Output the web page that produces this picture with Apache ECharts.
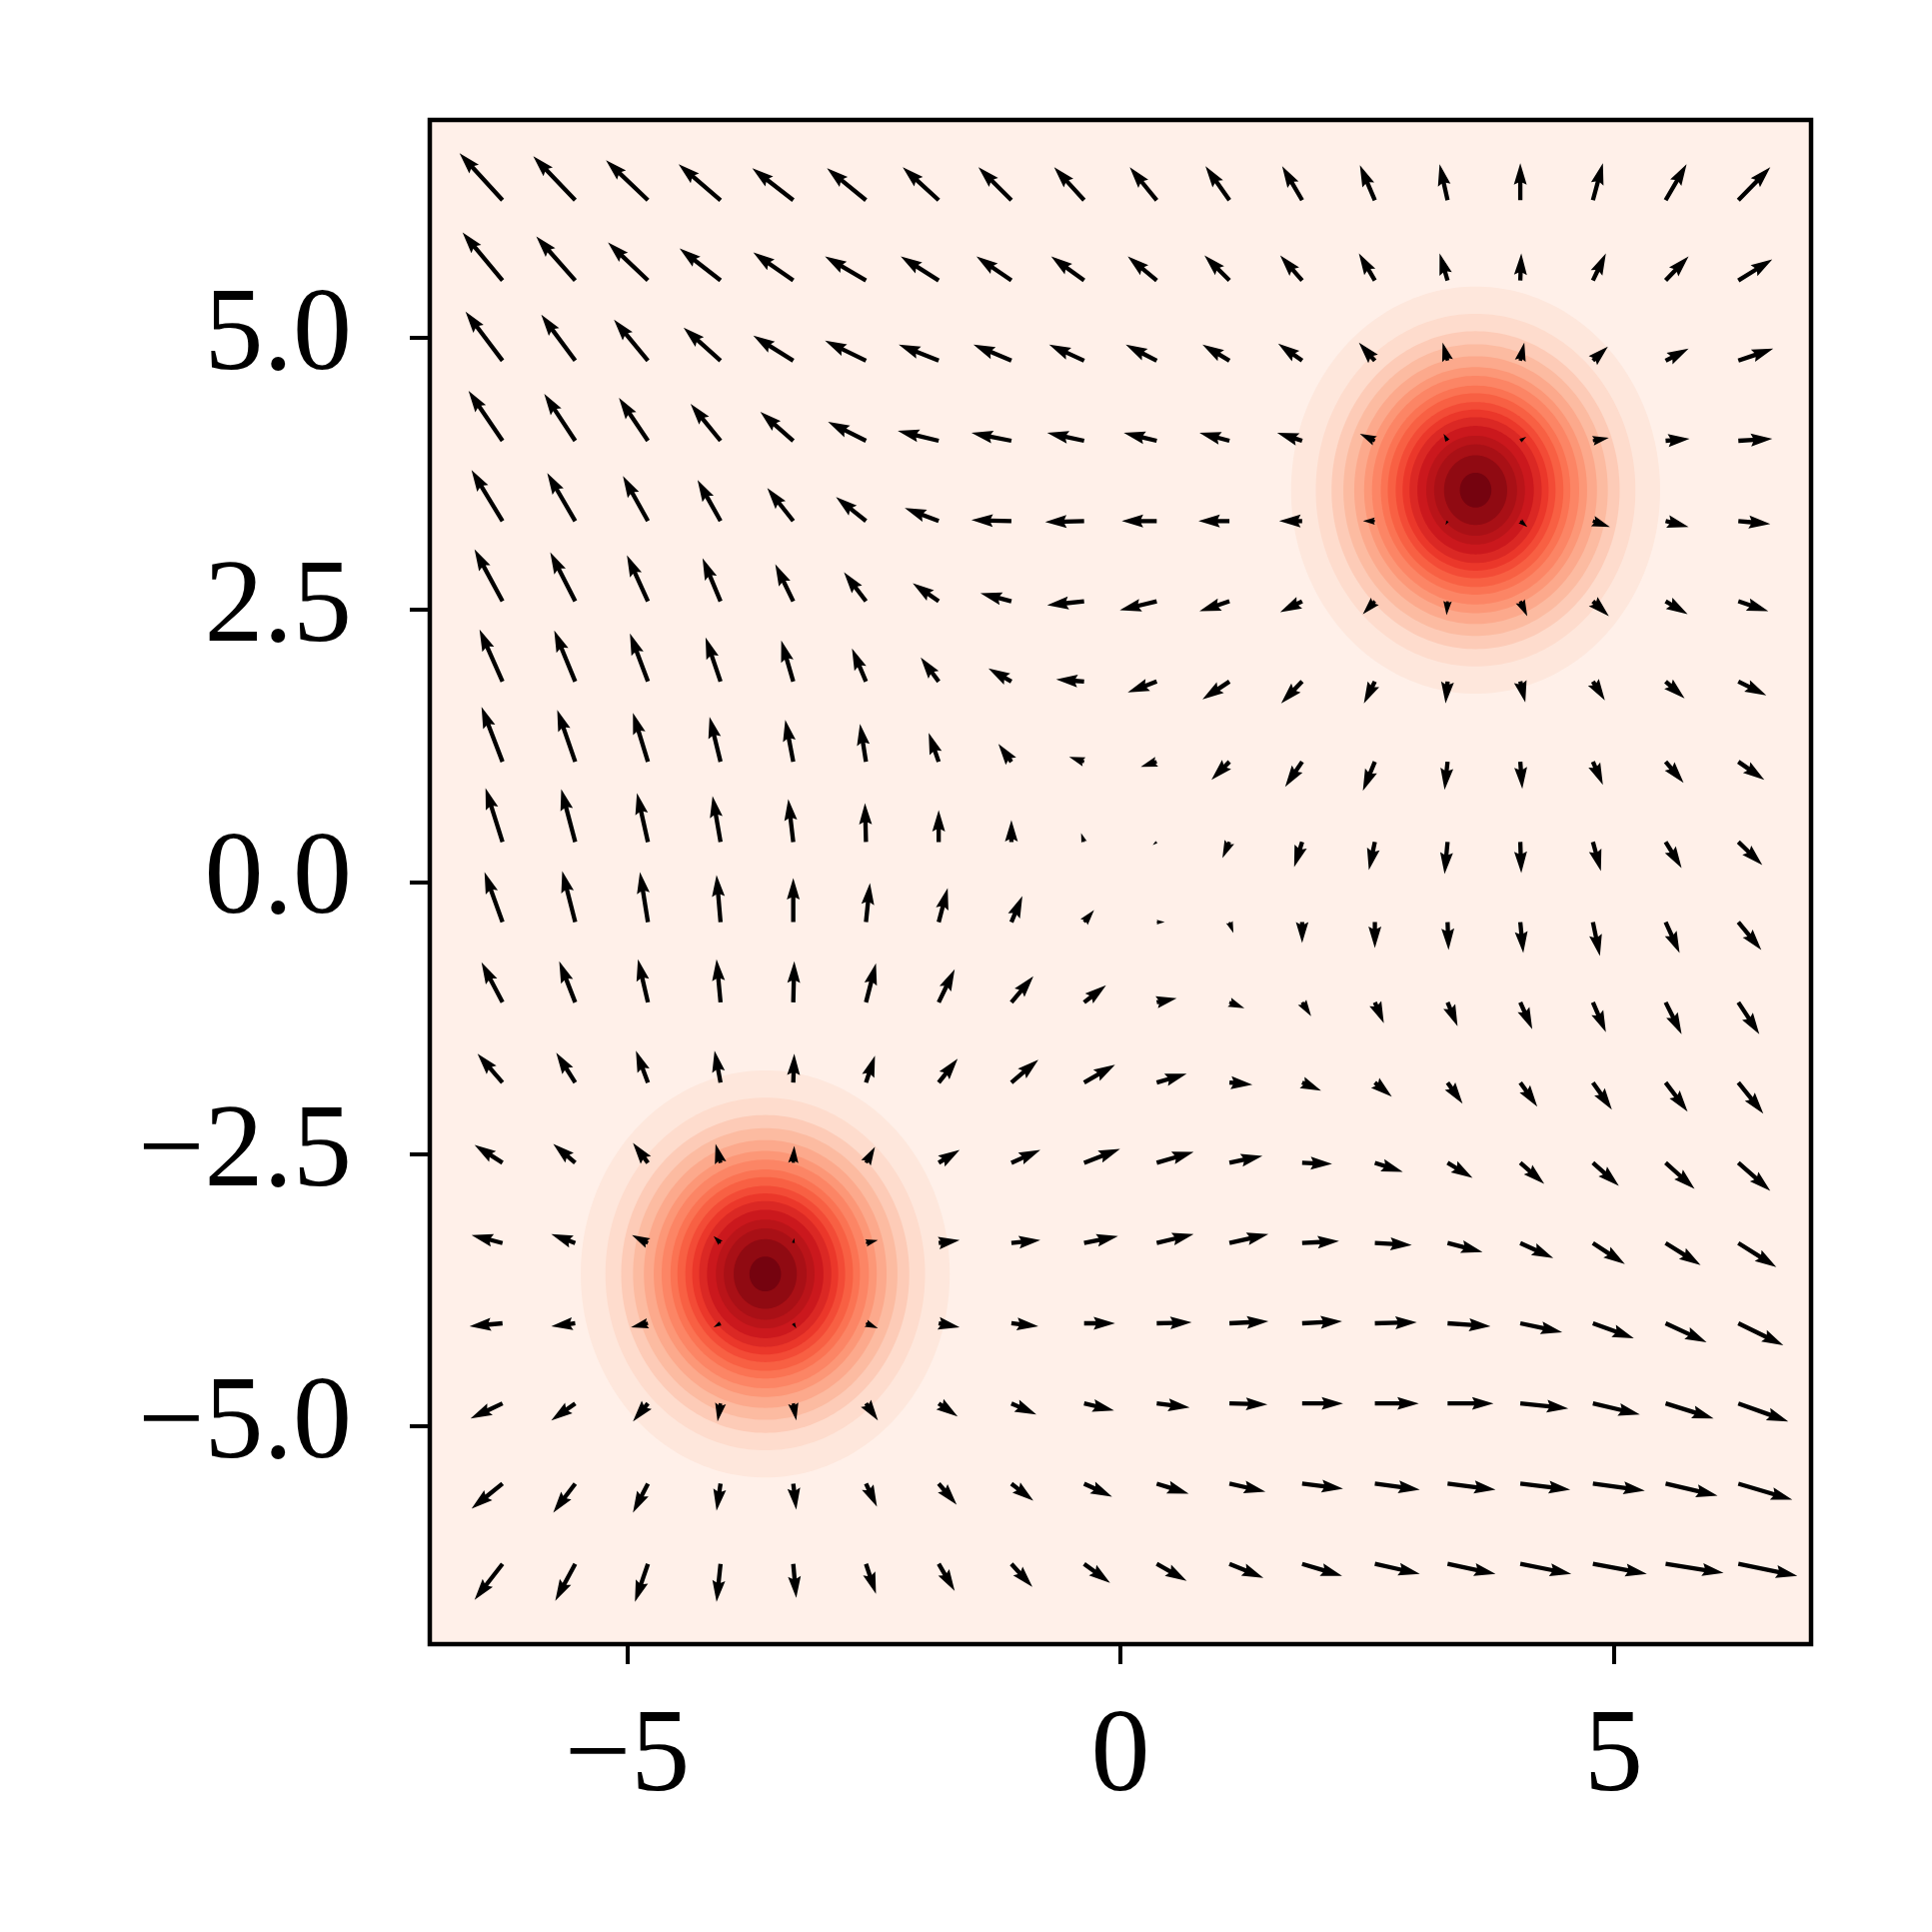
<!DOCTYPE html>
<html><head><meta charset="utf-8">
<script src="https://cdn.jsdelivr.net/npm/echarts@6/dist/echarts.min.js"></script>
<style>html,body{margin:0;padding:0;background:#fff}#c{width:1933px;height:1933px}</style>
</head><body><div id="c"></div>
<script>
// ---- data ----
const GRID_X = [-6.263,-5.526,-4.789,-4.053,-3.316,-2.579,-1.842,-1.105,-0.368,0.368,1.105,1.842,2.579,3.316,4.053,4.789,5.526,6.263];
const GRID_Y = [6.263,5.526,4.789,4.053,3.316,2.579,1.842,1.105,0.368,-0.368,-1.105,-1.842,-2.579,-3.316,-4.053,-4.789,-5.526,-6.263];
// vector components per row (top row first)
const U_ROWS = [
 [-4.3,-4.2,-4.2,-4.2,-4.1,-3.9, -3.6,-3.3,-3.0,-2.7,-2.4,-2.0, -1.5,-0.8,0.0,1.0,2.1,3.2],
 [-4.0,-3.9,-4.0,-4.1,-4.0,-4.1, -3.8,-3.5,-3.3,-2.9,-2.5,-2.2, -1.6,-0.8,0.1,1.3,2.3,3.4],
 [-3.7,-3.4,-3.4,-3.7,-4.0,-4.1, -4.0,-3.8,-3.5,-3.1,-2.7,-2.4, -1.6,-0.5,0.4,1.5,2.3,3.5],
 [-3.4,-3.1,-2.9,-3.0,-3.3,-3.8, -4.1,-4.0,-3.7,-3.3,-3.0,-2.5, -1.5,-0.4,0.6,1.6,2.4,3.4],
 [-3.1,-2.8,-2.5,-2.3,-2.6,-3.0, -3.4,-4.0,-3.9,-3.5,-3.1,-2.3, -1.2,-0.2,0.7,1.7,2.3,3.2],
 [-2.8,-2.5,-2.1,-1.8,-1.8,-2.2, -2.6,-3.1,-3.7,-3.7,-3.0,-2.2, -1.2,-0.1,0.7,1.6,2.2,3.0],
 [-2.3,-2.1,-1.8,-1.5,-1.2,-1.4, -1.8,-2.3,-2.8,-2.9,-2.7,-2.1, -1.1,-0.2,0.5,1.2,1.9,2.8],
 [-2.1,-1.8,-1.5,-1.1,-0.8,-0.6, -1.0,-1.3,-1.5,-1.6,-1.8,-1.7, -1.2,-0.3,0.2,1.0,1.8,2.6],
 [-1.7,-1.4,-1.1,-0.8,-0.5,-0.1, 0.0,0.0,-0.3,-0.4,-0.7,-0.8, -0.6,-0.3,0.1,0.8,1.6,2.4],
 [-1.8,-1.3,-0.8,-0.4,0.0,0.4, 0.9,1.1,1.0,0.8,0.4,0.0, 0.0,0.1,0.3,0.7,1.4,2.3],
 [-2.1,-1.6,-1.0,-0.4,0.1,1.0, 1.6,2.2,2.2,2.0,1.5,0.9, 0.9,1.0,1.2,1.3,1.6,2.1],
 [-2.5,-1.9,-1.2,-0.6,0.1,0.9, 1.9,2.7,3.1,3.0,2.3,1.9, 1.7,1.5,1.7,1.9,2.2,2.5],
 [-2.8,-2.2,-1.5,-0.5,0.1,0.9, 2.1,2.9,3.6,3.7,3.3,3.0, 2.8,2.5,2.4,2.6,2.9,3.2],
 [-3.1,-2.4,-1.6,-0.7,0.1,1.2, 2.1,2.9,3.4,3.7,3.9,3.7, 3.7,3.5,3.3,3.2,3.5,3.8],
 [-3.3,-2.4,-1.7,-0.7,0.3,1.2, 2.1,2.7,3.1,3.5,3.9,4.0, 4.2,4.3,4.2,4.1,4.1,4.5],
 [-3.2,-2.4,-1.5,-0.3,0.3,1.2, 1.9,2.5,3.0,3.3,3.8,4.1, 4.4,4.6,4.8,4.7,4.8,5.0],
 [-3.1,-2.2,-1.5,-0.4,0.3,1.1, 1.8,2.2,2.8,3.2,3.6,4.1, 4.5,4.8,5.0,5.2,5.2,5.4],
 [-2.8,-2.0,-1.3,-0.4,0.3,1.0, 1.6,2.1,2.6,3.0,3.4,4.0, 4.5,4.8,5.1,5.4,5.8,5.9]
];
const V_ROWS = [
 [4.7,4.4,4.0,3.6,3.2,3.2, 3.3,3.3,3.3,3.3,3.4,3.4, 3.5,3.6,3.7,3.7,3.6,3.3],
 [4.8,4.4,3.8,3.2,2.8,2.4, 2.4,2.4,2.4,2.4,2.5,2.5, 2.7,2.7,2.7,2.7,2.4,2.1],
 [4.9,4.6,4.1,3.3,2.5,2.0, 1.6,1.6,1.6,1.6,1.6,1.7, 1.8,1.8,1.8,1.4,1.2,1.2],
 [5.0,4.7,4.3,3.7,2.9,1.9, 1.0,0.8,0.8,0.8,0.8,0.8, 0.7,0.7,0.4,0.3,0.2,0.2],
 [5.1,4.8,4.5,4.1,3.3,2.4, 1.3,0.1,-0.1,0.0,0.0,0.0, 0.0,-0.4,-0.6,-0.6,-0.6,-0.3],
 [5.2,4.9,4.6,4.3,3.7,2.9, 1.8,0.8,-0.4,-0.9,-1.0,-1.1, -1.3,-1.4,-1.5,-1.5,-1.3,-1.0],
 [5.2,5.1,4.8,4.4,4.1,3.3, 2.4,1.3,0.2,-1.1,-1.8,-2.2, -2.2,-2.2,-2.1,-1.9,-1.7,-1.4],
 [5.5,5.2,4.9,4.5,4.2,3.8, 2.9,1.8,0.5,-0.5,-1.8,-2.5, -2.9,-2.8,-2.7,-2.3,-2.1,-1.8],
 [5.4,5.3,4.9,4.6,4.3,3.9, 3.2,2.2,0.9,-0.3,-1.6,-2.5, -2.8,-3.2,-3.1,-2.9,-2.6,-2.3],
 [5.0,5.1,5.0,4.7,4.4,3.9, 3.4,2.6,1.2,0.0,-1.1,-2.1, -2.6,-2.8,-3.1,-3.4,-3.1,-2.8],
 [4.0,4.1,4.3,4.3,4.1,3.9, 3.3,2.6,1.7,0.4,-0.6,-1.4, -2.1,-2.4,-2.7,-3.0,-3.2,-3.2],
 [2.9,3.0,3.2,3.2,2.9,2.7, 2.4,2.3,1.8,0.9,-0.2,-0.8, -1.4,-2.1,-2.4,-2.7,-2.9,-3.1],
 [1.8,1.9,2.0,1.9,1.7,1.6, 1.3,1.3,1.4,1.1,0.7,-0.1, -0.9,-1.5,-2.1,-2.3,-2.6,-2.8],
 [0.8,0.9,0.8,0.7,0.5,0.3, 0.3,0.3,0.7,0.9,0.9,0.2, -0.2,-0.9,-1.5,-2.1,-2.2,-2.4],
 [-0.3,-0.3,-0.4,-0.4,-0.5,-0.5, -0.4,-0.3,0.0,0.1,0.2,0.2, 0.1,-0.3,-0.9,-1.5,-1.9,-2.2],
 [-1.5,-1.7,-1.8,-1.8,-1.7,-1.7, -1.3,-1.1,-0.7,-0.4,-0.1,0.0, 0.0,0.0,-0.5,-1.1,-1.5,-1.8],
 [-2.5,-2.9,-2.9,-2.7,-2.6,-2.3, -2.1,-1.7,-1.3,-1.0,-0.8,-0.5, -0.6,-0.6,-0.6,-0.7,-1.2,-1.6],
 [-3.6,-3.7,-3.8,-3.8,-3.4,-3.0, -2.7,-2.3,-1.9,-1.7,-1.4,-1.2, -1.0,-1.0,-1.0,-1.0,-0.9,-1.2]
];
// filled-contour bands: two bumps, band boundary radii (outer -> inner), data units
const BLOB_CENTERS = [[3.6, 3.6], [-3.6, -3.6]];
const CONTOUR_RADII = [1.87,1.62,1.46,1.34,1.23,1.13,1.05,0.96,0.89,0.81,0.74,0.67,0.59,0.50,0.42,0.32,0.16];
const X_TICKS = [-5, 0, 5];
const X_TICK_LABELS = ['\u22125', '0', '5'];
const Y_TICKS = [-5, -2.5, 0, 2.5, 5];
const Y_TICK_LABELS = ['\u22125.0', '\u22122.5', '0.0', '2.5', '5.0'];

// ---- styling ----
const REDS = ['#fff5f0','#fee0d2','#fcbba1','#fc9272','#fb6a4a','#ef3b2c','#cb181d','#a50f15','#67000d'];
function hexRgb(h){return [parseInt(h.slice(1,3),16),parseInt(h.slice(3,5),16),parseInt(h.slice(5,7),16)];}
function reds(t){
  const p = Math.max(0, Math.min(1, t)) * 8;
  const i = Math.min(7, Math.floor(p)); const f = p - i;
  const a = hexRgb(REDS[i]), b = hexRgb(REDS[i+1]);
  return 'rgb(' + a.map((v,k)=>Math.round(v + (b[k]-v)*f)).join(',') + ')';
}
const NLAYERS = CONTOUR_RADII.length + 1;
function layerColor(k){ return reds((k + 0.5) / NLAYERS); }
const ARROW_PX = 10;   // pixels per vector unit
const SHAFT_W = 4.3;   // px
const FONT = "'Liberation Serif', 'DejaVu Serif', serif";
const FS = 118;

// ---- build series data ----
const ringData = [];
BLOB_CENTERS.forEach(c => CONTOUR_RADII.forEach((r, k) => ringData.push([c[0], c[1], r, k + 1])));
const arrowData = [];
GRID_Y.forEach((y, i) => GRID_X.forEach((x, j) => arrowData.push([x, y, U_ROWS[i][j], V_ROWS[i][j]])));

function renderRing(params, api){
  const cx = api.value(0), cy = api.value(1), r = api.value(2), lvl = api.value(3);
  const pts = [];
  for (let i = 0; i < 240; i++){
    const a = i / 240 * 2 * Math.PI;
    pts.push(api.coord([cx + r * Math.cos(a), cy + r * Math.sin(a)]));
  }
  return {type:'polygon', shape:{points:pts}, style:{fill: layerColor(lvl)}};
}
function renderArrow(params, api){
  const p = api.coord([api.value(0), api.value(1)]);
  const dx = api.value(2) * ARROW_PX, dy = -api.value(3) * ARROW_PX;
  const L = Math.hypot(dx, dy);
  if (L < 0.05) return null;
  const ux = dx / L, uy = dy / L, px = -uy, py = ux;
  const w = SHAFT_W, HL = 5, HAL = 4.5, HW = 3;
  const Lw = L / w;
  let xs, ys;
  if (Lw >= HL){
    xs = [0, Lw-HAL, Lw-HL, Lw, Lw-HL, Lw-HAL, 0];
    ys = [0.5, 0.5, HW/2, 0, -HW/2, -0.5, -0.5];
  } else {
    const s = Lw / HL;
    xs = [0, HL-HAL, 0, HL, 0, HL-HAL, 0].map(v => v * s);
    ys = [0.5, 0.5, HW/2, 0, -HW/2, -0.5, -0.5].map(v => v * s);
  }
  const pts = xs.map((a, i) => [p[0] + (a*ux + ys[i]*px) * w, p[1] + (a*uy + ys[i]*py) * w]);
  return {type:'polygon', shape:{points:pts}, style:{fill:'#000'}};
}

const chart = echarts.init(document.getElementById('c'), null, {renderer:'canvas'});
chart.setOption({
  animation: false,
  backgroundColor: '#ffffff',
  grid: {left:430, top:120, width:1382, height:1525, show:true,
         backgroundColor: layerColor(0), borderColor:'#000', borderWidth:4.5},
  xAxis: {type:'value', min:-7, max:7, position:'bottom',
    axisLine:{show:false, onZero:false}, splitLine:{show:false},
    axisTick:{show:true, inside:false, customValues: X_TICKS, length:20, lineStyle:{color:'#000', width:4}},
    axisLabel:{show:true, customValues: X_TICKS, margin:56, fontSize:FS, lineHeight:FS, fontFamily:FONT, color:'#000',
      formatter: v => X_TICK_LABELS[X_TICKS.indexOf(v)] ?? ''}},
  yAxis: {type:'value', min:-7, max:7, position:'left',
    axisLine:{show:false, onZero:false}, splitLine:{show:false},
    axisTick:{show:true, inside:false, customValues: Y_TICKS, length:20, lineStyle:{color:'#000', width:4}},
    axisLabel:{show:true, customValues: Y_TICKS, margin:78, fontSize:FS, lineHeight:FS, fontFamily:FONT, color:'#000',
      formatter: v => Y_TICK_LABELS[Y_TICKS.indexOf(v)] ?? ''}},
  series: [
    {type:'custom', name:'density', data: ringData, renderItem: renderRing, silent:true, z:1,
     encode:{x:0, y:1}},
    {type:'custom', name:'field', data: arrowData, renderItem: renderArrow, silent:true, z:2,
     encode:{x:0, y:1}}
  ]
});
</script></body></html>
